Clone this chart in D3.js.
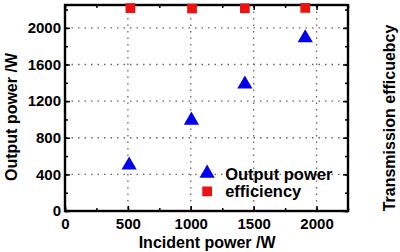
<!DOCTYPE html>
<html>
<head>
<meta charset="utf-8">
<script src="https://cdn.jsdelivr.net/npm/d3@7"></script>
<style>
  body { margin: 0; background: #fff; }
  text { font-family: "Liberation Sans", Arial, sans-serif; font-weight: bold; }
</style>
</head>
<body>
<div id="chart"></div>
<script>
// Data
const incident = [510, 1005, 1430, 1910];
const outputPower = [500, 990, 1385, 1890];
const effIncident = [520, 1010, 1430, 1910];
const efficiency = [98.5, 98.3, 98.4, 98.6];
const xTicks = [0, 500, 1000, 1500, 2000];
const yTicks = [0, 400, 800, 1200, 1600, 2000];

const W = 400, H = 252;
const margin = { top: 5, right: 52, bottom: 41, left: 65 },
      width = W - margin.left - margin.right,
      height = H - margin.top - margin.bottom;

const svg = d3.select("#chart").append("svg")
  .attr("width", W).attr("height", H);

const g = svg.append("g")
  .attr("transform", `translate(${margin.left},${margin.top})`);

const x = d3.scaleLinear().domain([0, 2250]).range([0, width]);
const y = d3.scaleLinear().domain([0, 2250]).range([height, 0]);
// efficiency (%) on its own right-hand scale, no tick labels
const yEff = d3.scaleLinear().domain([0, 100]).range([height, 0]);

// dotted grid
g.selectAll(".vgrid").data(xTicks.filter(d => d > 0)).enter().append("line")
  .attr("x1", d => x(d)).attr("x2", d => x(d))
  .attr("y1", 0).attr("y2", height)
  .attr("stroke", "#666").attr("stroke-width", 1.3)
  .attr("stroke-dasharray", "1.5,5");
g.selectAll(".hgrid").data(yTicks.filter(d => d > 0)).enter().append("line")
  .attr("x1", 0).attr("x2", width)
  .attr("y1", d => y(d)).attr("y2", d => y(d))
  .attr("stroke", "#666").attr("stroke-width", 1.3)
  .attr("stroke-dasharray", "1.5,5");

// axes with inward ticks
function styleAxis(sel) {
  sel.select(".domain").remove();
  sel.selectAll("line").attr("stroke", "#000").attr("stroke-width", 1.5);
  sel.selectAll("text").attr("font-size", 15).attr("fill", "#000");
}
const xMinor = d3.range(0, 2251, 250);
const yMinor = d3.range(0, 2251, 200);

g.append("g").attr("transform", `translate(0,${height})`)
  .call(d3.axisBottom(x).tickValues(xMinor).tickSize(-3).tickFormat(""))
  .call(styleAxis);
g.append("g").attr("transform", `translate(0,${height})`)
  .call(d3.axisBottom(x).tickValues(xTicks).tickSize(-5).tickPadding(7).tickFormat(d3.format("d")))
  .call(styleAxis);
g.append("g")
  .call(d3.axisTop(x).tickValues(xMinor).tickSize(-3).tickFormat(""))
  .call(styleAxis);
g.append("g")
  .call(d3.axisTop(x).tickValues(xTicks).tickSize(-5).tickFormat(""))
  .call(styleAxis);
g.append("g")
  .call(d3.axisLeft(y).tickValues(yMinor).tickSize(-3).tickFormat(""))
  .call(styleAxis);
g.append("g")
  .call(d3.axisLeft(y).tickValues(yTicks).tickSize(-5).tickPadding(4).tickFormat(d3.format("d")))
  .call(styleAxis);
g.append("g").attr("transform", `translate(${width},0)`)
  .call(d3.axisRight(y).tickValues(yMinor).tickSize(-3).tickFormat(""))
  .call(styleAxis);
g.append("g").attr("transform", `translate(${width},0)`)
  .call(d3.axisRight(y).tickValues(yTicks).tickSize(-5).tickFormat(""))
  .call(styleAxis);

// frame
g.append("rect")
  .attr("width", width).attr("height", height)
  .attr("fill", "none").attr("stroke", "#000").attr("stroke-width", 2.4);

// points
const tri = d3.symbol().type(d3.symbolTriangle).size(100);
const sq = d3.symbol().type(d3.symbolSquare).size(95);

g.selectAll(".tri").data(incident).enter().append("path")
  .attr("d", tri)
  .attr("transform", (d, i) => `translate(${x(d)},${y(outputPower[i])})`)
  .attr("fill", "#0000ee");

g.selectAll(".sq").data(effIncident).enter().append("path")
  .attr("d", sq)
  .attr("transform", (d, i) => `translate(${x(d)},${yEff(efficiency[i])})`)
  .attr("fill", "#ee1111");

// legend
const leg = g.append("g").attr("transform", `translate(${x(1130)},${y(400)})`);
leg.append("path").attr("d", tri).attr("transform", "translate(0,-1)").attr("fill", "#0000ee");
leg.append("text").attr("x", 18).attr("y", 6).attr("font-size", 16.5).text("Output power");
leg.append("path").attr("d", sq).attr("transform", "translate(0,17)").attr("fill", "#ee1111");
leg.append("text").attr("x", 18).attr("y", 23).attr("font-size", 16.5).text("efficiency");

// axis titles
svg.append("text")
  .attr("x", margin.left + x(1130)).attr("y", 248)
  .attr("text-anchor", "middle").attr("font-size", 16)
  .text("Incident power /W");

svg.append("text")
  .attr("transform", `translate(17,${margin.top + height / 2 + 9}) rotate(-90)`)
  .attr("text-anchor", "middle").attr("font-size", 16)
  .text("Output power /W");

svg.append("text")
  .attr("transform", `translate(395,118) rotate(-90)`)
  .attr("text-anchor", "middle").attr("font-size", 16)
  .text("Transmission efficuebcy");
</script>
</body>
</html>
